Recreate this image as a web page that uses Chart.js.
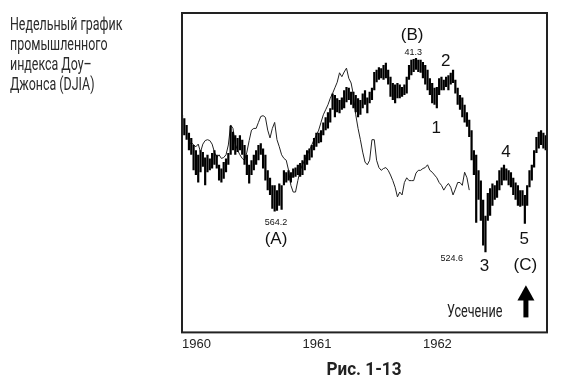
<!DOCTYPE html>
<html>
<head>
<meta charset="utf-8">
<script src="https://cdn.jsdelivr.net/npm/chart.js@4/dist/chart.umd.min.js"></script>
<style>
  body { margin: 0; width: 571px; height: 390px; position: relative; background: #fff; overflow: hidden; }
  #wrap { position: absolute; left: 0; top: 0; width: 571px; height: 390px; }
  #desc { position: absolute; left: 10px; top: 14px; font: 18px/20px Roboto, "Liberation Sans", sans-serif; color: #2a2a2a; z-index: 2; transform: scaleX(0.69); transform-origin: left top; white-space: nowrap; }
  #cap { position: absolute; left: 264px; width: 200px; top: 359px; text-align: center; font: bold 19px/20px Roboto, "Liberation Sans", sans-serif; color: #222; z-index: 2; transform: scaleX(0.9); }
</style>
</head>
<body>
<div id="desc">Недельный график<br>промышленного<br>индекса Доу–<br>Джонса (DJIA)</div>
<div id="wrap"><canvas id="myChart" width="571" height="390"></canvas></div>
<div id="cap">Рис. 1-13</div>
<script>
// weekly DJIA bars, week 0 = first week of 1960
const weekHigh = [
  670, 666, 658, 649, 643, 635, 629, 624, 629, 627, 621, 624, 620, 626, 629, 624, 613, 609, 616, 620,
  626, 657, 650, 646, 643, 646, 641, 635, 624, 613, 618, 624, 629, 635, 637, 631, 624, 607, 599, 591,
  591, 586, 593, 591, 607, 605, 607, 605, 609, 610, 613, 615, 618, 624, 629, 631, 635, 643, 649, 649,
  652, 661, 667, 673, 678, 696, 694, 690, 688, 691, 700, 704, 703, 698, 698, 694, 690, 688, 696, 700,
  691, 698, 703, 723, 726, 729, 728, 732, 735, 726, 717, 709, 707, 709, 707, 704, 707, 717, 732, 739,
  740, 741.3, 739, 739, 736, 732, 726, 715, 709, 703, 704, 715, 717, 713, 717, 719, 722, 726, 713, 703,
  694, 691, 682, 673, 664, 652, 629, 624, 607, 596, 576, 560, 583, 588, 593, 591, 596, 607, 610, 613,
  609, 607, 605, 599, 594, 591, 586, 586, 581, 591, 607, 613, 629, 644, 650, 652, 649, 646
];
const weekLow = [
  652, 646, 641, 629, 624, 607, 602, 594, 605, 611, 591, 605, 607, 609, 613, 609, 596, 594, 598, 605,
  613, 624, 629, 624, 627, 629, 624, 613, 602, 593, 602, 607, 613, 618, 624, 609, 596, 586, 581, 567,
  564.2, 565, 570, 566, 591, 594, 596, 594, 599, 600, 602, 600, 602, 607, 613, 618, 621, 629, 633, 637,
  638, 646, 652, 654, 661, 676, 667, 673, 672, 676, 678, 685, 688, 682, 678, 673, 667, 670, 678, 682,
  672, 684, 688, 700, 710, 713, 715, 713, 715, 707, 692, 688, 684, 690, 690, 692, 694, 696, 713, 719,
  723, 726, 723, 722, 715, 707, 700, 694, 684, 682, 678, 694, 700, 700, 704, 700, 707, 709, 696, 682,
  676, 667, 661, 656, 644, 618, 602, 553, 576, 555, 531, 524.6, 555, 560, 570, 576, 578, 586, 591, 596,
  596, 591, 589, 581, 576, 570, 569, 570, 552, 570, 589, 596, 610, 626, 631, 635, 631, 629
];
// thin comparison line, weeks 3..124
const lineStart = 3;
const lineValues = [
  635, 638, 635, 633, 636, 627, 636, 640, 641, 640, 636, 627, 621, 624, 620, 621, 624, 635, 658, 654,
  636, 629, 624, 620, 618, 627, 640, 652, 654, 654, 661, 668, 669, 667, 652, 643, 654, 661, 641, 633,
  624, 620, 618, 607, 591, 584, 584, 596, 607, 613, 618, 624, 629, 635, 641, 646, 652, 661, 670, 676,
  682, 690, 696, 703, 710, 722, 717, 723, 728, 715, 709, 694, 670, 654, 641, 627, 616, 613, 618, 641,
  641, 618, 610, 607, 609, 610, 607, 602, 596, 589, 579, 584, 581, 594, 599, 596, 596, 596, 604, 607,
  607, 609, 610, 613, 607, 605, 602, 599, 594, 591, 586, 590, 593, 589, 581, 587, 594, 594, 591, 605,
  599, 586
];
const yearLabels = ['1960', '1961', '1962'];

const notes = [
  { text: '564.2', x: 1960.78, y: 553, size: 9 },
  { text: '(A)', x: 1960.78, y: 537, size: 17 },
  { text: '(B)', x: 1961.91, y: 772, size: 17 },
  { text: '41.3', x: 1961.92, y: 749, size: 9 },
  { text: '2', x: 1962.19, y: 737, size: 17 },
  { text: '1', x: 1962.11, y: 654, size: 17 },
  { text: '4', x: 1962.69, y: 627, size: 17 },
  { text: '3', x: 1962.51, y: 512, size: 17 },
  { text: '524.6', x: 1962.24, y: 519, size: 9 },
  { text: '5', x: 1962.84, y: 537, size: 17 },
  { text: '(C)', x: 1962.85, y: 513, size: 17 }
];

const bars = weekHigh.map((h, i) => ({ x: 1960 + i / 52, y: [weekLow[i], h] }));
const line = lineValues.map((v, i) => ({ x: 1960 + (i + lineStart) / 52, y: v }));

const extras = {
  id: 'extras',
  afterDraw(chart) {
    const { ctx, chartArea: a, scales: { x, y } } = chart;
    ctx.save();
    ctx.strokeStyle = '#222';
    ctx.lineWidth = 2;
    ctx.strokeRect(a.left, a.top, a.right - a.left, a.bottom - a.top);
    ctx.fillStyle = '#111';
    ctx.textAlign = 'center';
    ctx.textBaseline = 'middle';
    notes.forEach(n => {
      ctx.font = n.size + 'px "Liberation Sans", Arial, sans-serif';
      ctx.fillText(n.text, x.getPixelForValue(n.x), y.getPixelForValue(n.y));
    });
    // truncation label (condensed) and arrow
    ctx.save();
    ctx.translate(x.getPixelForValue(1962.43), y.getPixelForValue(471));
    ctx.scale(0.7, 1);
    ctx.font = '18px Roboto, "Liberation Sans", sans-serif';
    ctx.fillStyle = '#222';
    ctx.fillText('Усечение', 0, 0);
    ctx.restore();
    const ax = x.getPixelForValue(1962.855);
    const tip = y.getPixelForValue(494.7), base = y.getPixelForValue(481.6), end = y.getPixelForValue(467.3);
    ctx.fillStyle = '#000';
    ctx.beginPath();
    ctx.moveTo(ax, tip);
    ctx.lineTo(ax + 8.5, base);
    ctx.lineTo(ax - 8.5, base);
    ctx.closePath();
    ctx.fill();
    ctx.fillRect(ax - 2.5, base - 1, 5, end - base + 1);
    ctx.restore();
  }
};

new Chart(document.getElementById('myChart'), {
  data: {
    datasets: [
      {
        type: 'bar',
        data: bars,
        backgroundColor: '#000',
        borderWidth: 0,
        barPercentage: 0.95,
        categoryPercentage: 1
      },
      {
        type: 'line',
        data: line,
        borderColor: '#222',
        borderWidth: 1,
        pointRadius: 0,
        tension: 0
      }
    ]
  },
  options: {
    responsive: false,
    animation: false,
    layout: { padding: { left: 182, right: 24, top: 13, bottom: 34 } },
    plugins: { legend: { display: false }, tooltip: { enabled: false } },
    scales: {
      x: {
        type: 'linear',
        min: 1960,
        max: 1963.03,
        offset: false,
        grid: { display: false, drawTicks: false },
        border: { display: false },
        ticks: {
          stepSize: 1,
          align: 'start',
          padding: 4,
          maxRotation: 0,
          color: '#222',
          font: { family: '"Liberation Sans", Arial, sans-serif', size: 13 },
          callback: v => yearLabels.includes(String(v)) ? String(v) : ''
        }
      },
      y: {
        type: 'logarithmic',
        min: 455,
        max: 803,
        display: false
      }
    }
  },
  plugins: [extras]
});
</script>
</body>
</html>
